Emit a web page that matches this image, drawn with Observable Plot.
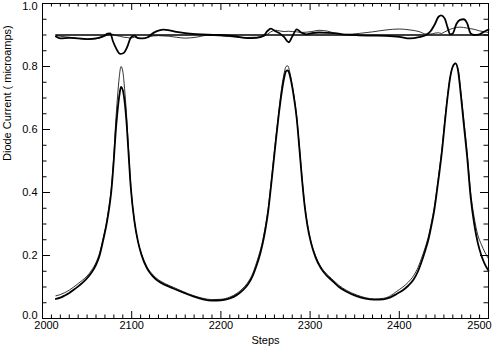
<!DOCTYPE html>
<html>
<head>
<meta charset="utf-8">
<script src="https://cdn.jsdelivr.net/npm/d3@7"></script>
<script src="https://cdn.jsdelivr.net/npm/@observablehq/plot@0.6"></script>
<style>
  html, body { margin: 0; padding: 0; background: #fff; }
</style>
</head>
<body>
<div id="chart"></div>
<script>
// ---- data ----
const steps = [2015, 2020, 2025, 2030, 2035, 2040, 2045, 2050, 2055, 2060, 2064, 2068, 2072, 2075, 2077, 2080, 2082, 2084, 2086, 2088, 2090, 2092, 2094, 2096, 2099, 2103, 2107, 2111, 2117, 2124, 2130, 2138, 2146, 2158, 2169, 2180, 2190, 2200, 2210, 2218, 2225, 2231, 2236, 2240, 2244, 2247, 2250, 2253, 2256, 2259, 2262, 2265, 2268, 2271, 2273, 2275, 2277, 2279, 2282, 2285, 2288, 2291, 2294, 2297, 2301, 2306, 2312, 2318, 2324, 2332, 2341, 2352, 2362, 2372, 2382, 2390, 2397, 2404, 2410, 2416, 2421, 2425, 2429, 2433, 2436, 2439, 2442, 2445, 2448, 2451, 2454, 2457, 2460, 2463, 2466, 2469, 2472, 2476, 2480, 2484, 2488, 2492, 2496, 2500];

const thinCurrent = [0.072, 0.076, 0.082, 0.090, 0.100, 0.111, 0.122, 0.135, 0.153, 0.178, 0.208, 0.255, 0.310, 0.365, 0.410, 0.520, 0.620, 0.700, 0.765, 0.800, 0.785, 0.730, 0.655, 0.560, 0.420, 0.310, 0.245, 0.205, 0.165, 0.138, 0.123, 0.110, 0.100, 0.085, 0.073, 0.064, 0.060, 0.061, 0.068, 0.080, 0.097, 0.118, 0.145, 0.178, 0.215, 0.250, 0.295, 0.350, 0.425, 0.505, 0.585, 0.660, 0.730, 0.780, 0.800, 0.802, 0.785, 0.755, 0.705, 0.640, 0.545, 0.445, 0.360, 0.300, 0.245, 0.200, 0.165, 0.143, 0.127, 0.106, 0.089, 0.075, 0.066, 0.062, 0.064, 0.072, 0.086, 0.100, 0.115, 0.136, 0.162, 0.192, 0.225, 0.265, 0.305, 0.350, 0.410, 0.475, 0.545, 0.630, 0.705, 0.765, 0.800, 0.810, 0.790, 0.720, 0.640, 0.530, 0.400, 0.320, 0.265, 0.235, 0.210, 0.190];

const thickCurrent = [0.062, 0.066, 0.073, 0.081, 0.091, 0.102, 0.114, 0.128, 0.146, 0.170, 0.200, 0.248, 0.302, 0.355, 0.400, 0.505, 0.590, 0.655, 0.705, 0.735, 0.725, 0.690, 0.630, 0.545, 0.415, 0.310, 0.245, 0.202, 0.160, 0.133, 0.118, 0.106, 0.096, 0.082, 0.070, 0.061, 0.057, 0.058, 0.064, 0.075, 0.091, 0.111, 0.138, 0.168, 0.205, 0.240, 0.285, 0.340, 0.415, 0.495, 0.575, 0.650, 0.715, 0.765, 0.785, 0.788, 0.775, 0.750, 0.700, 0.635, 0.540, 0.440, 0.355, 0.295, 0.240, 0.195, 0.160, 0.138, 0.122, 0.101, 0.085, 0.071, 0.063, 0.060, 0.061, 0.067, 0.078, 0.090, 0.104, 0.124, 0.150, 0.180, 0.215, 0.255, 0.295, 0.340, 0.400, 0.465, 0.535, 0.620, 0.700, 0.765, 0.800, 0.810, 0.785, 0.710, 0.625, 0.515, 0.385, 0.300, 0.240, 0.200, 0.172, 0.152];

const topSteps = [2015, 2020, 2030, 2040, 2050, 2060, 2068, 2073, 2076, 2079, 2083, 2087, 2091, 2095, 2099, 2103, 2107, 2112, 2118, 2124, 2130, 2136, 2142, 2150, 2160, 2172, 2185, 2200, 2215, 2230, 2240, 2248, 2252, 2256, 2261, 2266, 2271, 2276, 2280, 2285, 2290, 2296, 2302, 2310, 2320, 2330, 2340, 2355, 2370, 2385, 2400, 2412, 2422, 2430, 2435, 2440, 2444, 2447, 2451, 2454, 2457, 2460, 2464, 2468, 2472, 2476, 2480, 2484, 2490, 2496, 2500];

const thickRatio = [0.895, 0.889, 0.891, 0.889, 0.887, 0.889, 0.896, 0.904, 0.905, 0.880, 0.855, 0.840, 0.843, 0.862, 0.892, 0.898, 0.890, 0.889, 0.893, 0.906, 0.914, 0.917, 0.915, 0.910, 0.906, 0.903, 0.901, 0.900, 0.896, 0.890, 0.891, 0.898, 0.912, 0.920, 0.912, 0.905, 0.893, 0.877, 0.895, 0.918, 0.908, 0.902, 0.906, 0.908, 0.907, 0.905, 0.901, 0.899, 0.898, 0.897, 0.894, 0.889, 0.893, 0.900, 0.912, 0.935, 0.958, 0.962, 0.952, 0.925, 0.902, 0.905, 0.935, 0.948, 0.950, 0.938, 0.905, 0.900, 0.902, 0.912, 0.917];

const thinRatio = [0.899, 0.896, 0.893, 0.889, 0.886, 0.888, 0.894, 0.900, 0.903, 0.902, 0.898, 0.896, 0.893, 0.892, 0.890, 0.893, 0.890, 0.889, 0.893, 0.897, 0.898, 0.897, 0.896, 0.893, 0.890, 0.893, 0.899, 0.897, 0.894, 0.892, 0.893, 0.896, 0.902, 0.910, 0.915, 0.913, 0.911, 0.912, 0.911, 0.910, 0.908, 0.909, 0.911, 0.915, 0.912, 0.904, 0.902, 0.905, 0.910, 0.916, 0.919, 0.916, 0.911, 0.903, 0.903, 0.906, 0.907, 0.905, 0.910, 0.914, 0.918, 0.921, 0.924, 0.925, 0.924, 0.922, 0.920, 0.918, 0.913, 0.910, 0.908];

const refLevel = [0.9];
const refStart = 2015;
const refEnd = 2500;

const xTickLabels = [2000, 2100, 2200, 2300, 2400, 2500];
const yTickLabels = [0.0, 0.2, 0.4, 0.6, 0.8, 1.0];
const xMinorTicks = d3.range(2000, 2501, 10).filter(v => v % 100 !== 0);
const yMinorTicks = d3.range(0, 21).map(i => i / 20).filter((v, i) => i % 4 !== 0);

const xTitle = "Steps";
const yTitle = "Diode Current ( microamps)";

// ---- build tables ----
const currentThin = steps.map((s, i) => ({step: s, v: thinCurrent[i]}));
const currentThick = steps.map((s, i) => ({step: s, v: thickCurrent[i]}));
const ratioThin = topSteps.map((s, i) => ({step: s, v: thinRatio[i]}));
const ratioThick = topSteps.map((s, i) => ({step: s, v: thickRatio[i]}));

const W = 493, H = 351;
const mL = 42, mR = 5, mT = 3, mB = 33;
const plotH = H - mT - mB;
const plotW = W - mL - mR;
const xMajLen = 7, xMinLen = 3.5, yMajLen = 8, yMinLen = 4.5;

const fmtX = d3.format("d");
const fmtY = d3.format(".1f");

const chart = Plot.plot({
  width: W,
  height: H,
  marginLeft: mL,
  marginRight: mR,
  marginTop: mT,
  marginBottom: mB,
  x: {domain: [2000, 2500]},
  y: {domain: [0, 1]},
  style: {fontFamily: "'Liberation Sans', Arial, Helvetica, sans-serif", fontSize: "11px", color: "#000", background: "#fff"},
  marks: [
    Plot.frame({stroke: "#000", strokeWidth: 1}),
    // inward ticks
    Plot.ruleX(xTickLabels, {insetTop: plotH - xMajLen, stroke: "#000"}),
    Plot.ruleX(xTickLabels, {insetBottom: plotH - xMajLen, stroke: "#000"}),
    Plot.ruleX(xMinorTicks, {insetTop: plotH - xMinLen, stroke: "#000"}),
    Plot.ruleX(xMinorTicks, {insetBottom: plotH - xMinLen, stroke: "#000"}),
    Plot.ruleY(yTickLabels, {insetRight: plotW - yMajLen, stroke: "#000"}),
    Plot.ruleY(yTickLabels, {insetLeft: plotW - yMajLen, stroke: "#000"}),
    Plot.ruleY(yMinorTicks, {insetRight: plotW - yMinLen, stroke: "#000"}),
    Plot.ruleY(yMinorTicks, {insetLeft: plotW - yMinLen, stroke: "#000"}),
    // tick labels
    Plot.axisX({ticks: xTickLabels.slice(0, 1), tickSize: 0, tickPadding: 3, tickFormat: fmtX, label: null, dx: 4}),
    Plot.axisX({ticks: xTickLabels.slice(1, -1), tickSize: 0, tickPadding: 3, tickFormat: fmtX, label: null}),
    Plot.axisX({ticks: xTickLabels.slice(-1), tickSize: 0, tickPadding: 3, tickFormat: fmtX, label: null, dx: -9}),
    Plot.axisY({ticks: yTickLabels.slice(0, 1), tickSize: 0, tickPadding: 5, tickFormat: fmtY, label: null, dy: -3}),
    Plot.axisY({ticks: yTickLabels.slice(1, -1), tickSize: 0, tickPadding: 5, tickFormat: fmtY, label: null}),
    Plot.axisY({ticks: yTickLabels.slice(-1), tickSize: 0, tickPadding: 5, tickFormat: fmtY, label: null, dy: 3}),
    Plot.text([xTitle], {frameAnchor: "bottom", dy: 25, text: d => d, fill: "#000"}),
    Plot.text([yTitle], {frameAnchor: "left", dx: -35, rotate: -90, text: d => d, fill: "#000"}),
    // reference level
    Plot.ruleY(refLevel, {x1: refStart, x2: refEnd, stroke: "#000", strokeWidth: 1.5}),
    // ratio curves
    Plot.line(ratioThin, {x: "step", y: "v", stroke: "#000", strokeWidth: 0.8, curve: "monotone-x"}),
    Plot.line(ratioThick, {x: "step", y: "v", stroke: "#000", strokeWidth: 1.8, curve: "monotone-x"}),
    // current curves
    Plot.line(currentThin, {x: "step", y: "v", stroke: "#000", strokeWidth: 0.8, curve: "monotone-x"}),
    Plot.line(currentThick, {x: "step", y: "v", stroke: "#000", strokeWidth: 1.8, curve: "monotone-x"})
  ]
});
document.getElementById("chart").appendChild(chart);
</script>
</body>
</html>
